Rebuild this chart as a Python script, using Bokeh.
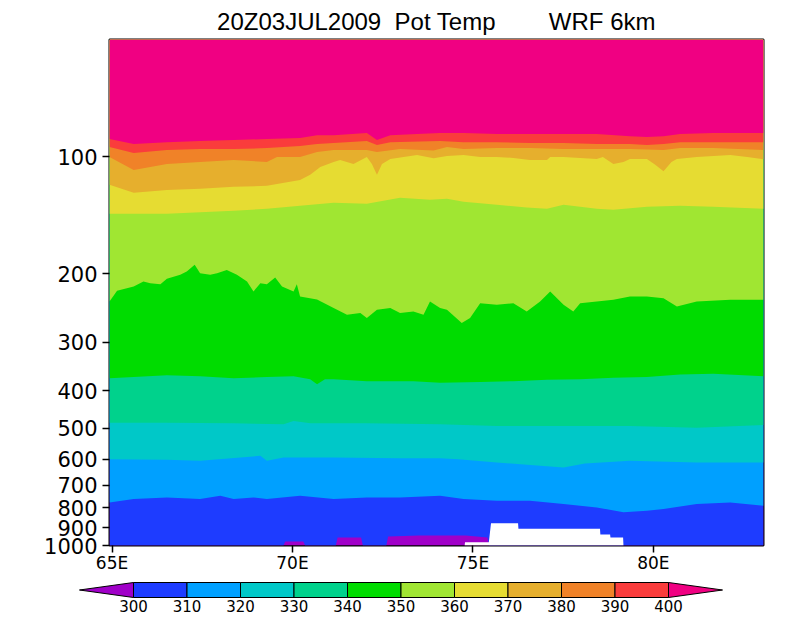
import numpy as np
from bokeh.plotting import figure
from bokeh.models import Range1d, FixedTicker, PrintfTickFormatter
from bokeh.embed import file_html
from bokeh.resources import INLINE
from bokeh.core.properties import value

# ---------------- data ----------------
title_text = "20Z03JUL2009 \u00a0Pot Temp \u00a0\u00a0\u00a0\u00a0\u00a0\u00a0\u00a0WRF 6km"

levels = [300, 310, 320, 330, 340, 350, 360, 370, 380, 390, 400]
colors = ["#a000c8", "#1e3cff", "#00a0ff", "#00c8c8", "#00d28c", "#00dc00",
          "#a0e632", "#e6dc32", "#e6af2d", "#f08228", "#fa3c3c", "#f00082"]

x_ticks = [65, 70, 75, 80]
x_tick_labels = ["65E", "70E", "75E", "80E"]
y_ticks = [100, 200, 300, 400, 500, 600, 700, 800, 900, 1000]

lon_min, lon_max = 64.93, 83.05
p_bottom, p_top = 1000, 50

# pressure (hPa) of each potential-temperature contour vs longitude
lon_300 = [64.93, 69.75, 69.80, 70.30, 70.35, 71.20, 71.25, 71.90, 71.95, 72.60, 72.65,
           73.50, 74.10, 74.80, 75.40, 75.45, 83.05]
p_300 = [1000, 1000, 976, 976, 1000, 1000, 954, 954, 1000, 1000, 948,
         943, 943, 943, 954, 1000, 1000]

lon_310 = [64.93, 65.60, 66.52, 67.44, 68.00, 68.37, 68.92, 69.29, 70.21, 71.14, 72.06, 72.98,
           74.09, 74.74, 75.66, 76.58, 77.51, 78.43, 79.17, 79.82, 80.28, 81.20, 82.13, 83.05]
p_310 = [774.8, 759.4, 752.3, 759.4, 744.7, 759.4, 752.3, 759.4, 744.7, 759.4, 752.3, 752.3,
         744.7, 759.4, 767.1, 767.1, 782.2, 798.0, 821.8, 813.6, 805.4, 782.2, 774.8, 790.0]

lon_320 = [64.93, 66.52, 67.44, 69.11, 69.29, 69.75, 71.14, 72.98, 74.09, 74.60, 75.66, 76.50,
           77.51, 78.10, 79.35, 81.20, 83.05]
p_320 = [599.8, 602.0, 605.6, 588.1, 605.6, 594.1, 594.1, 597.0, 597.0, 600.0, 611.9, 620.0,
         630.2, 615.0, 605.6, 611.9, 611.9]

lon_330 = [64.93, 66.52, 68.37, 69.75, 70.03, 70.50, 72.06, 74.09, 75.66, 77.51, 79.35, 81.20, 83.05]
p_330 = [483.4, 483.4, 485.0, 488.0, 478.6, 485.0, 485.0, 488.0, 492.9, 492.9, 492.9, 497.7, 490.0]

lon_340 = [64.93, 65.60, 66.52, 67.44, 68.37, 69.29, 70.03, 70.49, 70.68, 70.90, 71.14, 72.06,
           73.35, 74.09, 75.20, 76.12, 77.05, 77.97, 78.89, 79.82, 80.74, 81.66, 83.05]
p_340 = [371.3, 369.0, 364.8, 366.9, 371.3, 369.0, 366.9, 373.5, 384.7, 373.5, 373.5, 378.0,
         378.0, 381.7, 380.0, 378.0, 375.0, 373.5, 370.6, 369.0, 363.5, 362.0, 366.9]

lon_350 = [64.93, 65.14, 65.60, 65.87, 66.06, 66.34, 66.52, 66.89, 67.07, 67.29, 67.44, 67.72,
           67.91, 68.18, 68.46, 68.74, 68.92, 69.11, 69.29, 69.52, 69.71, 70.03, 70.12, 70.21,
           70.68, 71.14, 71.51, 71.88, 72.06, 72.34, 72.71, 72.98, 73.35, 73.63, 73.81, 74.09,
           74.28, 74.69, 74.92, 75.20, 75.66, 76.12, 76.49, 76.86, 77.14, 77.51, 77.78, 77.97,
           78.43, 78.89, 79.35, 79.82, 80.28, 80.65, 81.20, 82.13, 83.05]
p_350 = [235.7, 221.3, 215.8, 209.5, 211.7, 212.9, 206.2, 201.4, 197.5, 189.8, 199.5, 201.4,
         199.5, 195.6, 201.4, 209.5, 222.2, 211.7, 212.9, 204.6, 215.8, 222.2, 212.9, 228.9,
         233.0, 245.2, 255.0, 252.6, 260.2, 247.5, 245.2, 252.6, 250.1, 255.0, 235.7, 245.2,
         247.5, 267.9, 260.2, 238.2, 240.4, 238.2, 250.1, 235.7, 222.2, 240.4, 250.1, 238.2,
         235.7, 233.4, 228.9, 228.9, 231.2, 242.8, 235.7, 233.4, 233.4]

lon_360 = [64.93, 66.52, 68.37, 69.29, 70.21, 71.14, 72.06, 72.98, 73.81, 74.28, 74.74, 75.66,
           76.49, 77.05, 77.51, 78.43, 78.89, 79.82, 80.74, 81.66, 83.05]
p_360 = [140.3, 140.3, 137.8, 136.2, 133.8, 131.5, 132.2, 127.6, 129.1, 128.3, 130.7, 133.0,
         135.2, 136.2, 133.0, 136.2, 137.0, 134.6, 133.8, 134.6, 136.2]

lon_370 = [64.93, 65.60, 66.52, 67.44, 68.37, 69.29, 70.21, 70.49, 70.77, 71.14, 71.32, 71.69,
           72.06, 72.20, 72.34, 72.48, 72.71, 73.45, 73.91, 74.28, 74.74, 75.20, 75.66, 76.12,
           76.58, 77.05, 77.14, 77.51, 77.97, 78.43, 78.60, 78.89, 79.17, 79.35, 79.82, 80.05,
           80.28, 80.50, 80.65, 81.20, 82.13, 82.60, 83.05]
p_370 = [118.2, 123.9, 121.8, 121.0, 119.6, 118.9, 114.8, 111.4, 106.3, 103.2, 102.0, 104.5,
         100.2, 104.5, 111.4, 104.5, 101.4, 99.1, 101.0, 99.6, 99.1, 100.2, 100.2, 100.8,
         102.0, 102.0, 100.2, 100.2, 100.8, 101.4, 100.2, 104.5, 103.2, 101.4, 101.4, 105.0,
         109.0, 103.2, 101.4, 100.2, 99.1, 100.2, 101.6]

lon_380 = [64.93, 65.60, 66.06, 66.52, 67.44, 68.37, 69.29, 69.57, 70.21, 70.68, 71.14, 72.06,
           72.34, 72.98, 73.91, 74.28, 74.74, 75.66, 76.58, 77.51, 78.43, 79.35, 80.28, 80.74,
           81.66, 83.05]
p_380 = [100.2, 108.2, 106.3, 104.5, 103.2, 102.0, 103.2, 100.2, 100.2, 97.3, 96.2, 96.2,
         97.3, 95.6, 96.5, 94.5, 95.6, 95.1, 95.1, 95.6, 95.6, 95.6, 96.2, 95.1,
         95.1, 96.2]

lon_390 = [64.93, 65.60, 66.52, 67.44, 68.37, 69.29, 70.21, 70.68, 72.06, 72.34, 72.71, 74.09,
           74.74, 75.66, 76.58, 77.51, 78.43, 79.35, 79.82, 80.28, 80.74, 81.66, 83.05]
p_390 = [94.5, 97.9, 96.2, 95.6, 95.6, 95.1, 93.9, 92.8, 91.2, 93.4, 91.8, 91.2,
         91.8, 91.8, 92.3, 92.3, 92.8, 92.8, 93.4, 92.8, 91.8, 91.8, 91.8]

lon_400 = [64.93, 65.60, 66.52, 67.44, 68.37, 69.29, 70.21, 70.68, 71.14, 72.06, 72.34, 72.71,
           73.45, 74.09, 74.74, 75.66, 76.58, 77.51, 78.43, 79.35, 79.82, 80.28, 80.74, 81.66, 83.05]
p_400 = [90.1, 92.8, 91.8, 91.2, 90.7, 90.1, 89.6, 88.1, 88.1, 87.0, 90.7, 88.1,
         87.5, 87.0, 87.0, 87.5, 87.5, 87.5, 87.5, 88.6, 89.1, 88.6, 87.5, 87.0, 87.0]

# surface (terrain) pressure, below which there is no data
lon_sfc = [64.93, 74.77, 74.78, 75.44, 75.50, 76.25, 76.26, 78.52, 78.53, 78.80, 78.81, 79.16,
           79.17, 83.05]
p_sfc = [1000, 1000, 981, 981, 877, 877, 905, 905, 937, 937, 954, 954, 1000, 1000]

contours = [(lon_300, p_300), (lon_310, p_310), (lon_320, p_320), (lon_330, p_330),
            (lon_340, p_340), (lon_350, p_350), (lon_360, p_360), (lon_370, p_370),
            (lon_380, p_380), (lon_390, p_390), (lon_400, p_400)]

# ---------------- main cross-section ----------------
FONT = "DejaVu Sans"
BL, BR = 109, 37
p = figure(width=800, height=578,
           x_range=Range1d(lon_min, lon_max), y_range=Range1d(p_bottom, p_top),
           y_axis_type="log", output_backend="svg", toolbar_location=None,
           min_border_left=BL, min_border_right=BR, min_border_top=37, min_border_bottom=33)

p.title.text = title_text
p.title.align = "center"
p.title.text_font = "Liberation Sans"
p.title.text_font_size = "24px"
p.title.text_font_style = "normal"
p.title.text_color = "black"

# base (below lowest level)
p.varea(x=[lon_min, lon_max], y1=[p_bottom, p_bottom], y2=[p_top, p_top], color=colors[0])
for i, (lo, pr) in enumerate(contours):
    p.varea(x=lo, y1=pr, y2=[p_top] * len(lo), color=colors[i + 1])
p.varea(x=lon_sfc, y1=[p_bottom] * len(lon_sfc), y2=p_sfc, color="white")

p.grid.visible = False
p.outline_line_color = "black"
p.outline_line_width = 2
p.background_fill_color = "white"
p.border_fill_color = "white"

for ax in (p.xaxis[0], p.yaxis[0]):
    ax.axis_line_color = None
    ax.major_tick_in = 0
    ax.major_tick_out = 7
    ax.major_tick_line_color = "black"
    ax.major_tick_line_width = 1.5
    ax.minor_tick_line_color = None
    ax.major_label_text_font = FONT
    ax.major_label_text_color = "black"

p.xaxis.ticker = FixedTicker(ticks=x_ticks)
p.xaxis.major_label_overrides = dict(zip(x_ticks, x_tick_labels))
p.xaxis.major_label_text_font_size = "17px"
p.xaxis.major_label_standoff = 0

p.yaxis.ticker = FixedTicker(ticks=y_ticks)
p.yaxis.formatter = PrintfTickFormatter(format="%d")
p.yaxis.major_label_text_font_size = "21px"
p.yaxis.major_label_standoff = 5

# ---------------- colour bar (separate root, full-width frame) ----------------
px_per_unit = (668 - 133) / (levels[-1] - levels[0])
cb_x0 = levels[0] - 133 / px_per_unit
cb_x1 = cb_x0 + 800 / px_per_unit
cb = figure(width=800, height=40, x_range=Range1d(cb_x0, cb_x1), y_range=Range1d(0, 40),
            output_backend="svg", toolbar_location=None, min_border=0,
            min_border_left=0, min_border_right=0, min_border_top=0, min_border_bottom=0,
            x_axis_location=None, y_axis_location=None, outline_line_color=None)
cb.grid.visible = False
cb.background_fill_color = "white"
cb.border_fill_color = "white"

bar_bot, bar_top = 21, 36
tip = (levels[-1] - levels[0]) * 0.101
mid = (bar_bot + bar_top) / 2
cb.quad(left=levels[:-1], right=levels[1:], bottom=bar_bot, top=bar_top,
        fill_color=colors[1:-1], line_color="black", line_width=1)
cb.patches(xs=[[levels[0], levels[0] - tip, levels[0]], [levels[-1], levels[-1] + tip, levels[-1]]],
           ys=[[bar_top, mid, bar_bot], [bar_top, mid, bar_bot]],
           fill_color=[colors[0], colors[-1]], line_color="black", line_width=1)
cb.text(x=levels, y=[13] * len(levels), text=[str(v) for v in levels],
        text_align="center", text_baseline="middle",
        text_font=value(FONT), text_font_size="15px", text_color="black")

open("out.html", "w").write(file_html([p, cb], INLINE))
